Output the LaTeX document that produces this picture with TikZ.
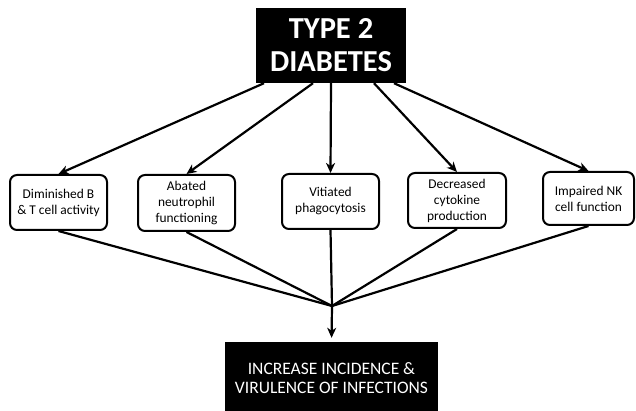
\documentclass[tikz,border=0pt]{standalone}
\usepackage{fontspec}
\setmainfont{Carlito}
\usetikzlibrary{arrows.meta}
\begin{document}
\begin{tikzpicture}[x=1pt,y=-1pt,
  conn/.style={line width=2.2pt,black},
  arr/.style={conn,-{Stealth[length=10pt,width=9pt,inset=3pt]}},
  stepbox/.style={draw=black,line width=2pt,rounded corners=7pt,fill=white,
    inner sep=0pt,align=center,font=\fontsize{13.4}{16}\selectfont},
  blackbox/.style={fill=black,text=white,inner sep=0pt,align=center}]
\useasboundingbox (0,0) rectangle (636,411);
\node[blackbox,minimum width=150pt,minimum height=75pt,font=\bfseries\fontsize{30.5}{33}\selectfont] (top) at (331,45.5) {TYPE 2\\DIABETES};
\node[stepbox,minimum width=97pt,minimum height=55pt] (b1) at (58.5,202.5) {Diminished B\\\& T cell activity};
\node[stepbox,minimum width=97pt,minimum height=56pt] (b2) at (186.5,203) {Abated\\neutrophil\\functioning};
\node[stepbox,minimum width=97pt,minimum height=55pt] (b3) at (330.5,201.5) {Vitiated\\phagocytosis};
\node[stepbox,minimum width=98pt,minimum height=55pt] (b4) at (457,200.5) {Decreased\\cytokine\\production};
\node[stepbox,minimum width=91pt,minimum height=53pt] (b5) at (588.5,198.5) {Impaired NK\\cell function};
\node[blackbox,minimum width=213pt,minimum height=72pt,font=\fontsize{17.5}{19.5}\selectfont] (bot) at (331.5,378) {INCREASE INCIDENCE \&\\VIRULENCE OF INFECTIONS};
\coordinate (m) at (332,306);
\draw[arr] ([xshift=-67pt]top.south) -- (b1.north);
\draw[arr] ([xshift=-18pt]top.south) -- (b2.north);
\draw[arr] (top.south) -- (b3.north);
\draw[arr] ([xshift=43pt]top.south) -- (b4.north);
\draw[arr] ([xshift=63pt]top.south) -- (b5.north);
\draw[conn] (b1.south) -- (m);
\draw[conn] (b2.south) -- (m);
\draw[conn] (b3.south) -- (m);
\draw[conn] (b4.south) -- (m);
\draw[conn] (b5.south) -- (m);
\draw[arr,shorten >=4pt] (m) -- (bot.north);
\end{tikzpicture}
\end{document}
